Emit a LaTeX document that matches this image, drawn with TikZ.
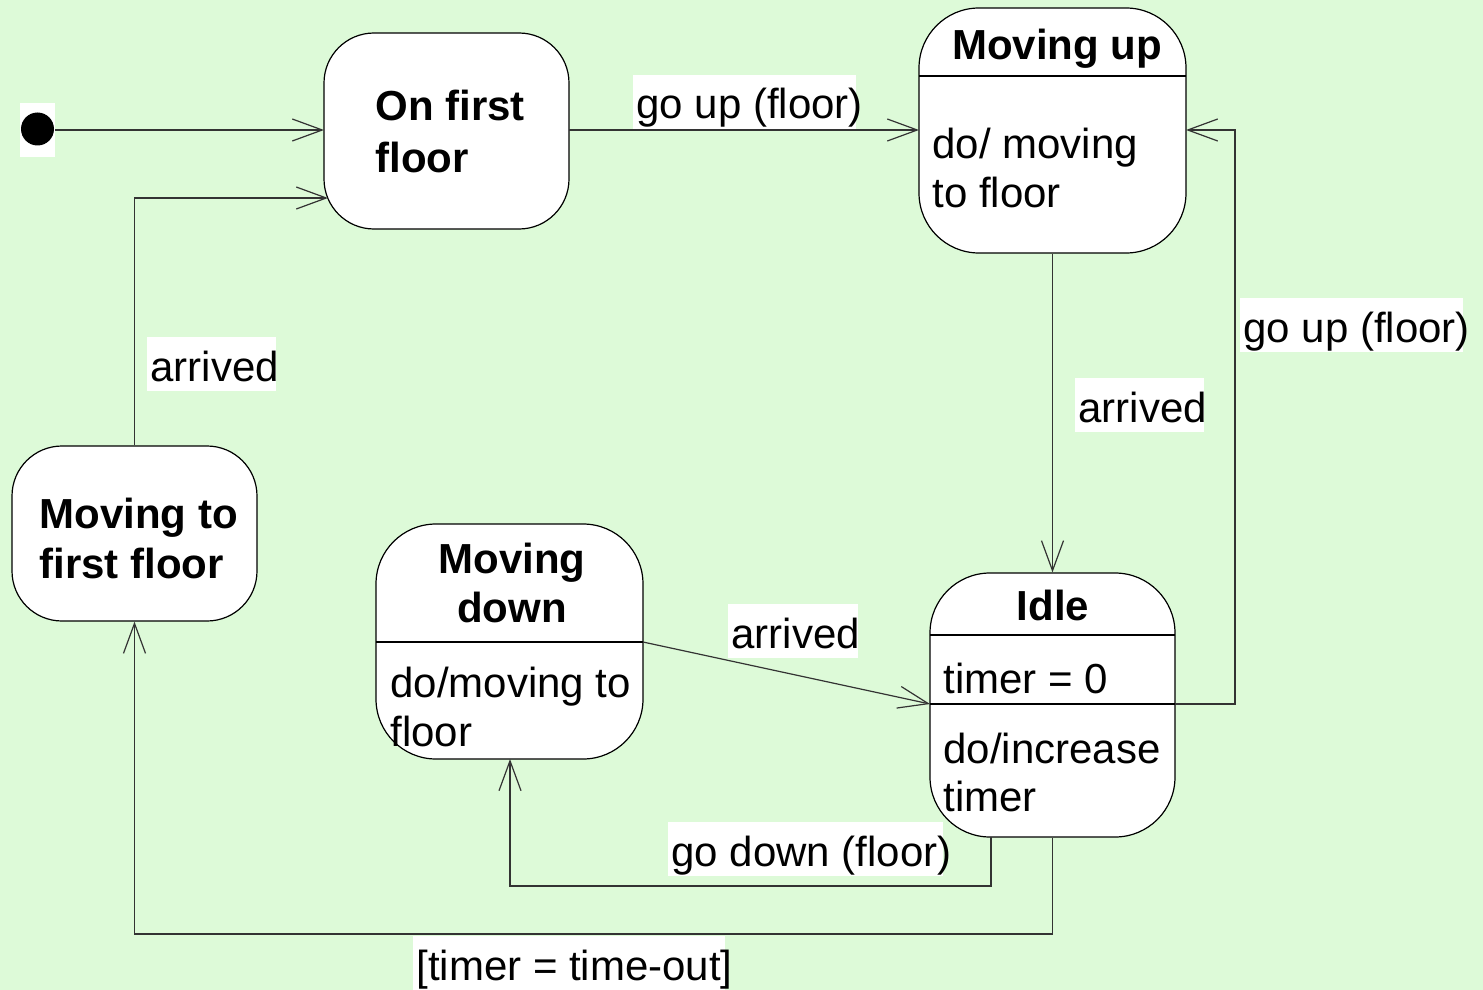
\documentclass[tikz,border=0pt]{standalone}
\usepackage{fontspec}
\setmainfont{Liberation Sans}
\usetikzlibrary{arrows.meta,calc}
\definecolor{bgc}{RGB}{221,250,216}
\tikzset{
  state/.style={draw=black, line width=0.6pt, fill=white, rounded corners=30pt, inner sep=0pt},
  conn/.style={draw=black!80, line width=0.6pt},
  arr/.style={conn, -{Straight Barb[length=15pt,width=11pt,line width=0.6pt]}},
  lbl/.style={fill=white, inner sep=0pt, anchor=base west, text height=22pt, text depth=5pt, font=\fontsize{21}{24.5}\selectfont},
  txt/.style={inner sep=0pt, anchor=base west, font=\fontsize{21}{24.5}\selectfont},
  btxt/.style={inner sep=0pt, anchor=base west, font=\fontsize{21}{24.5}\selectfont\bfseries},
  ctitle/.style={inner sep=0pt, anchor=base, font=\fontsize{21}{24.5}\selectfont\bfseries},
}
\newcommand{\lbtext}[2]{\makebox[#1][l]{\hspace{1.5pt}#2}}
\begin{document}
\begin{tikzpicture}[x=0.5pt,y=-0.5pt]
\fill[bgc] (0,0) rectangle (1483,990);
\useasboundingbox (0,0) rectangle (1483,990);

% initial state
\node[fill=white, minimum width=17.5pt, minimum height=27pt, inner sep=0pt] (initbg) at (37.5,130) {};
\node[circle, fill=black, minimum size=16.5pt, inner sep=0pt] (init) at (37.5,129) {};

% states
\node[state, minimum width=122.5pt, minimum height=98pt, rounded corners=25pt] (ofs) at (446.5,131) {};
\node[btxt] (ofs1) at (375,120) {On first};
\node[btxt] (ofs2) at (375,172) {floor};

\node[state, minimum width=133.5pt, minimum height=122.5pt] (mu) at (1052.5,130.5) {};
\draw[line width=0.6pt] (919,76) -- (1186,76);
\node[ctitle] (mut) at (1057,60) {Moving up};
\node[txt] (mu1) at (932,158) {do/ moving};
\node[txt] (mu2) at (932,207) {to floor};

\node[state, minimum width=122.5pt, minimum height=132pt] (idle) at (1052.5,705) {};
\draw[line width=0.6pt] (930,635) -- (1175,635);
\draw[line width=0.6pt] (930,704) -- (1175,704);
\node[ctitle] (idlet) at (1053,620) {Idle};
\node[txt] (idle1) at (943,693) {timer = 0};
\node[txt] (idle2) at (943,763) {do/increase};
\node[txt] (idle3) at (943,811) {timer};

\node[state, minimum width=133.5pt, minimum height=117.5pt] (md) at (509.5,641.5) {};
\draw[line width=0.6pt] (376,642) -- (643,642);
\node[ctitle] (mdt1) at (512,573) {Moving};
\node[ctitle] (mdt2) at (512,622) {down};
\node[txt] (md1) at (390,697) {do/moving to};
\node[txt] (md2) at (390,746) {floor};

\node[state, minimum width=122.5pt, minimum height=87.5pt, rounded corners=25pt] (mff) at (134.5,533.5) {};
\node[btxt] (mff1) at (39,528) {Moving to};
\node[btxt] (mff2) at (39,578) {first floor};

% connector coordinates
\coordinate (ofsR) at (569,130);
\coordinate (muL) at (919,130);
\coordinate (muR) at (1186,130);
\coordinate (ofsL) at (324,130);
\coordinate (idleR) at (1175,704);
\coordinate (idleL) at (930,704);
\coordinate (mdR) at (643,642);
\coordinate (idleB1) at (991,837);
\coordinate (mdB) at (510,759);
\coordinate (ofsC) at (328,198);

% connectors
\draw[arr] (initbg.east) -- (ofsL);
\draw[arr] (ofsR) -- (muL);
\draw[arr] (mu.south) -- (idle.north);
\draw[arr] (idleR) -- (1235,704) -- (1235,130) -- (muR);
\draw[arr] (mdR) -- (idleL);
\draw[arr] (idleB1) -- (991,886) -- (510,886) -- (mdB);
\draw[arr] (idle.south) -- (1052.5,934) -- (134.5,934) -- (mff.south);
\draw[arr] (mff.north) -- (134.5,198) -- (ofsC);

% labels
\node[lbl] (l1) at (633,119) {\lbtext{111.5pt}{go up (floor)}};
\node[lbl] (l2) at (1075,422) {\lbtext{64.5pt}{arrived}};
\node[lbl] (l3) at (1240,342) {\lbtext{111.5pt}{go up (floor)}};
\node[lbl] (l4) at (728,648) {\lbtext{65pt}{arrived}};
\node[lbl] (l5) at (668,866) {\lbtext{137.5pt}{go down (floor)}};
\node[lbl] (l6) at (413,980) {\lbtext{156pt}{[timer = time-out]}};
\node[lbl] (l7) at (147,381) {\lbtext{64.5pt}{arrived}};
\end{tikzpicture}
\end{document}
